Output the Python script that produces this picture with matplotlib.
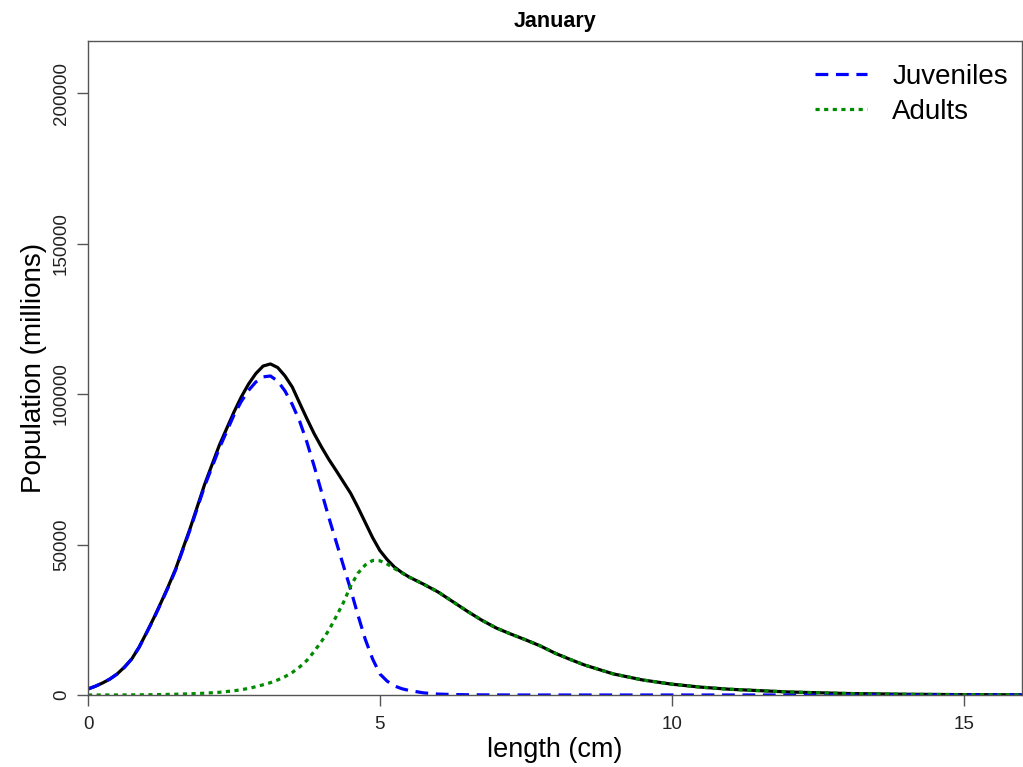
import matplotlib
matplotlib.use("Agg")
import matplotlib.pyplot as plt

plt.rcParams['font.family'] = ['Liberation Sans', 'DejaVu Sans']

# ---- data ----
length = [0, 0.125, 0.25, 0.375, 0.5, 0.625, 0.75, 0.875, 1.0, 1.125, 1.25, 1.375,
          1.5, 1.75, 2.0, 2.25,
          2.5, 2.625, 2.75, 2.875, 3.0, 3.125, 3.25, 3.375, 3.5, 3.625,
          3.75, 3.875, 4.0, 4.125, 4.25, 4.375, 4.5, 4.625, 4.75, 4.875,
          5.0, 5.125, 5.25, 5.375, 5.5, 5.75, 6.0, 6.25, 6.5, 6.75,
          7.0, 7.25, 7.5, 7.75, 8.0, 8.25, 8.5, 9.0, 9.5, 10.0,
          10.5, 11.0, 12.0, 13.0, 14.0, 15.0, 16.0]
juveniles = [2000, 2900, 4000, 5300, 7000, 9200, 12000, 15800, 20500, 25300, 30500, 35800,
             41500, 55000, 69500, 82000,
             93000, 97500, 101200, 104000, 105700, 106000, 104300, 101000, 96500, 91000,
             84000, 76000, 67500, 59000, 51000, 43000, 35000, 26500, 18500, 12000,
             7000, 4600, 3000, 2100, 1500, 700, 300, 150, 80, 40,
             20, 10, 0, 0, 0, 0, 0, 0, 0, 0,
             0, 0, 0, 0, 0, 0, 0]
adults = [0, 5, 10, 15, 20, 30, 45, 60, 80, 110, 150, 200,
          250, 400, 600, 900,
          1400, 1750, 2200, 2750, 3400, 4100, 5000, 6100, 7500, 9300,
          11500, 14500, 17800, 21500, 26000, 30700, 36200, 40500, 43200, 44700,
          44600, 43500, 42000, 40600, 39200, 36800, 34200, 31000, 27800, 24800,
          22200, 20200, 18300, 16300, 13900, 11900, 10000, 7000, 5000, 3600,
          2600, 1900, 1000, 500, 250, 120, 60]
total = [2000, 2900, 4000, 5300, 7000, 9300, 12000, 15900, 20600, 25500, 30700, 36100,
         41800, 55400, 70100, 83000,
         94000, 99000, 103300, 106800, 109300, 110000, 108800, 106000, 102300, 97000,
         91800, 86800, 82400, 78300, 74600, 70800, 67000, 62300, 57300, 52300,
         48000, 45000, 42500, 40700, 39200, 36800, 34200, 31000, 27800, 24800,
         22200, 20200, 18300, 16300, 13900, 11900, 10000, 7000, 5000, 3600,
         2600, 1900, 1000, 500, 250, 120, 60]
series_labels = ["Juveniles", "Adults"]
x_ticks = [0, 5, 10, 15]
y_ticks = [0, 50000, 100000, 150000, 200000]

W, H = 1023, 767
fig = plt.figure(figsize=(W / 100, H / 100), dpi=100)
ax = fig.add_axes([88 / W, (H - 695) / H, (1022 - 88) / W, (695 - 41) / H])

ax.plot(length, total, color='black', lw=2.3, solid_joinstyle='round')
ax.plot(length, juveniles, color='#0000FF', lw=2.3, linestyle=(0, (4, 2.4)),
        dash_joinstyle='round', label=series_labels[0])
ax.plot(length, adults, color='#008B00', lw=2.3, linestyle=(0, (1.3, 1.4)),
        dash_joinstyle='round', label=series_labels[1])

ax.set_xlim(0, 16)
ax.set_ylim(0, 217300)
ax.set_xticks(x_ticks)
ax.set_xticklabels([str(v) for v in x_ticks])
ax.set_yticks(y_ticks)
ax.set_yticklabels([str(v) for v in y_ticks], rotation=90, va='center')

spine_col = '#555555'
for s in ax.spines.values():
    s.set_color(spine_col)
    s.set_linewidth(1.0)
ax.tick_params(axis='both', direction='out', length=8, width=1.0, color=spine_col,
               labelcolor='#222222')
ax.tick_params(axis='x', labelsize=13.5, pad=7)
ax.tick_params(axis='y', labelsize=13.5, pad=5)

ax.set_xlabel("length (cm)", fontsize=19.5, labelpad=3)
ax.set_ylabel("Population (millions)", fontsize=20, labelpad=4)
ax.set_title("January", fontsize=15.5, fontweight='bold', pad=10)

leg = ax.legend(loc='upper left', bbox_to_anchor=(0.778, 0.965), frameon=False,
                fontsize=20, handlelength=1.9, handletextpad=0.9,
                labelspacing=0.32, borderpad=0, borderaxespad=0)

fig.savefig("out.png", dpi=100)
